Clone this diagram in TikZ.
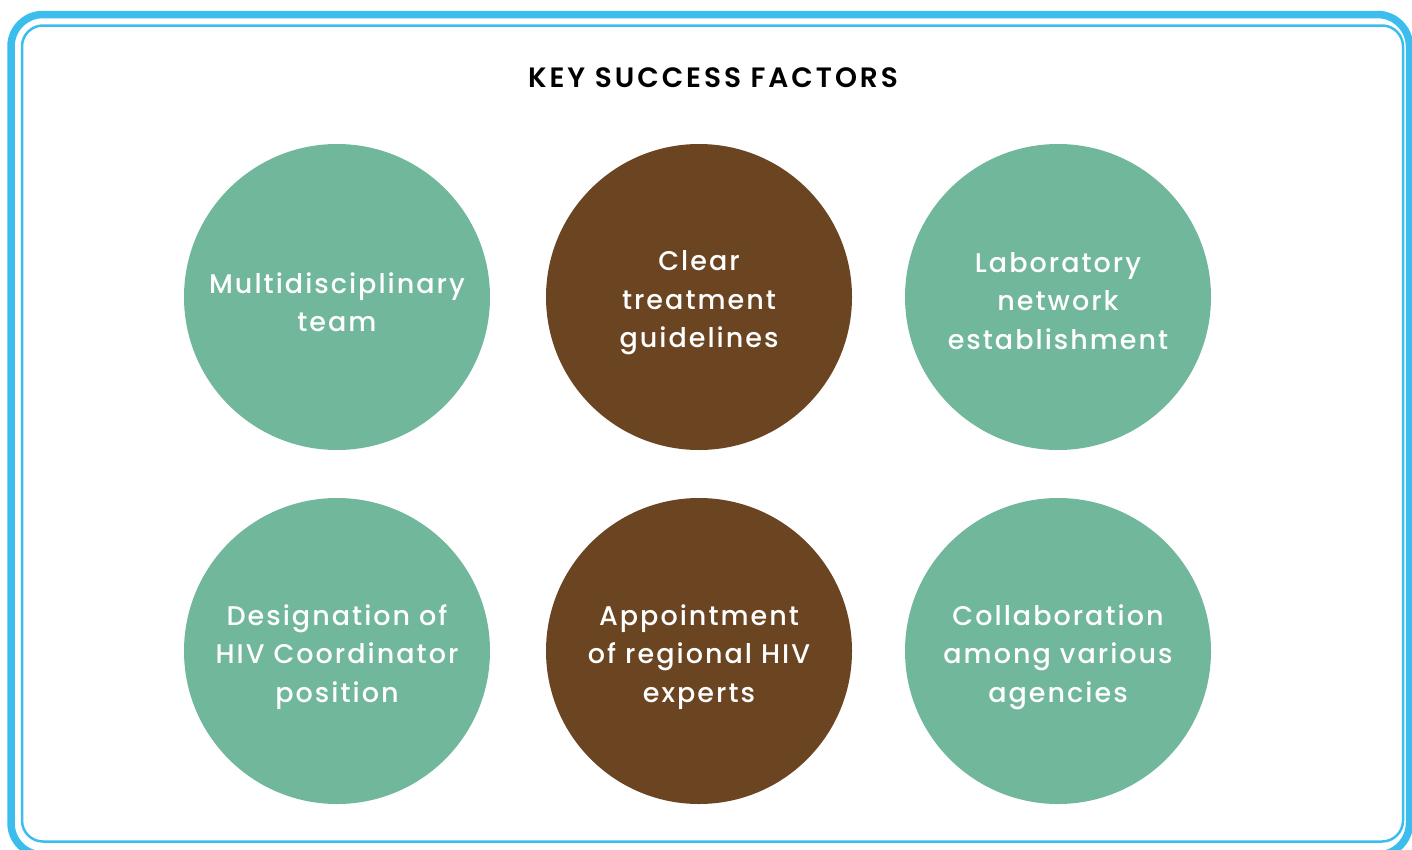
\documentclass[tikz,border=0pt]{standalone}
\usepackage{fontspec}
\setmainfont{Poppins}[UprightFont=* Medium, BoldFont=* SemiBold, LetterSpace=7.5]
\newfontfamily\titlefont{Poppins}[UprightFont=* SemiBold, LetterSpace=10.5]
\definecolor{frameblue}{HTML}{3BBDED}
\definecolor{sage}{HTML}{71B79C}
\definecolor{bark}{HTML}{6B4522}
\tikzset{
  factor/.style={circle, minimum size=306pt, inner sep=0pt, align=center, text=white,
    font=\fontsize{27}{38.5}\selectfont},
  greenfactor/.style={factor, fill=sage},
  brownfactor/.style={factor, fill=bark},
  factortext/.style={factor, fill=none, yshift=-6pt},
}
\begin{document}
\begin{tikzpicture}[x=1pt,y=-1pt]
\useasboundingbox (0,0) rectangle (1412,849);
\begin{scope}
\clip (0,0) rectangle (1412,849);
\draw[frameblue, line width=7.5pt, rounded corners=32pt] (11,14.5) rectangle (1409.5,855);
\end{scope}
\draw[frameblue, line width=2.5pt, rounded corners=21pt] (22,25.5) rectangle (1403,841.5);
\node (title) at (713,77.5) {\titlefont\fontsize{28}{32}\selectfont KEY SUCCESS FACTORS};
\node[greenfactor] (multi) at (337,297) {};
\node[brownfactor] (clear) at (699,297) {};
\node[greenfactor] (lab) at (1058,297) {};
\node[greenfactor] (desig) at (337,651) {};
\node[brownfactor] (appt) at (699,651) {};
\node[greenfactor] (collab) at (1058,651) {};
\node[factortext, yshift=1pt] at (multi) {Multidisciplinary\\team};
\node[factortext] at (clear) {Clear\\treatment\\guidelines};
\node[factortext, yshift=2pt] at (lab) {Laboratory\\network\\establishment};
\node[factortext] at (desig) {Designation of\\HIV Coordinator\\position};
\node[factortext] at (appt) {Appointment\\of regional HIV\\experts};
\node[factortext] at (collab) {Collaboration\\among various\\agencies};
\end{tikzpicture}
\end{document}
